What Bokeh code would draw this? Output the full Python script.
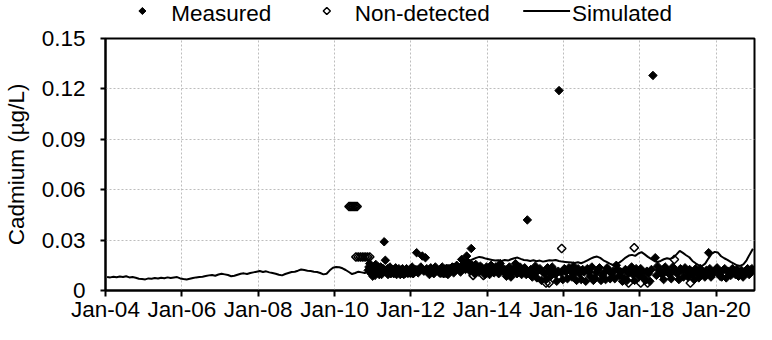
import numpy as np
from bokeh.plotting import figure
from bokeh.layouts import column
from bokeh.models import FixedTicker, Range1d, ColumnDataSource
from bokeh.core.properties import value
from bokeh.embed import file_html
from bokeh.resources import INLINE

# ---------------- data ----------------
x_tick_years = [2004, 2006, 2008, 2010, 2012, 2014, 2016, 2018, 2020]
x_tick_labels = ["Jan-04", "Jan-06", "Jan-08", "Jan-10", "Jan-12", "Jan-14", "Jan-16", "Jan-18", "Jan-20"]
y_ticks = [0.0, 0.03, 0.06, 0.09, 0.12, 0.15]
y_tick_labels = ["0", "0.03", "0.06", "0.09", "0.12", "0.15"]
legend_labels = ["Measured", "Non-detected", "Simulated"]

sim_start_year = 2004
# monthly simulated cadmium (ug/L), Jan 2004 .. Dec 2020
simulated = [
    0.0080, 0.0078, 0.0082, 0.0079, 0.0083, 0.0080, 0.0085, 0.0078, 0.0080, 0.0076, 0.0070, 0.0068,
    0.0066, 0.0072, 0.0070, 0.0074, 0.0071, 0.0076, 0.0073, 0.0078, 0.0074, 0.0077, 0.0080, 0.0072,
    0.0068, 0.0066, 0.0070, 0.0074, 0.0078, 0.0080, 0.0082, 0.0086, 0.0090, 0.0092, 0.0088, 0.0095,
    0.0100, 0.0096, 0.0092, 0.0085, 0.0088, 0.0094, 0.0100, 0.0102, 0.0098, 0.0104, 0.0108, 0.0112,
    0.0116, 0.0110, 0.0114, 0.0108, 0.0104, 0.0100, 0.0094, 0.0090, 0.0098, 0.0104, 0.0110, 0.0112,
    0.0118, 0.0125, 0.0122, 0.0118, 0.0116, 0.0112, 0.0110, 0.0104, 0.0096, 0.0100, 0.0120, 0.0135,
    0.0140, 0.0138, 0.0132, 0.0122, 0.0110, 0.0098, 0.0104, 0.0112, 0.0108, 0.0104, 0.0114, 0.0120,
    0.0125, 0.0130, 0.0128, 0.0126, 0.0132, 0.0128, 0.0124, 0.0130, 0.0134, 0.0130, 0.0128, 0.0135,
    0.0140, 0.0145, 0.0140, 0.0142, 0.0136, 0.0142, 0.0146, 0.0140, 0.0136, 0.0142, 0.0148, 0.0150,
    0.0152, 0.0158, 0.0150, 0.0156, 0.0162, 0.0170, 0.0178, 0.0186, 0.0194, 0.0200, 0.0196, 0.0190,
    0.0186, 0.0182, 0.0178, 0.0180, 0.0176, 0.0182, 0.0178, 0.0186, 0.0192, 0.0196, 0.0188, 0.0182,
    0.0180, 0.0176, 0.0180, 0.0174, 0.0178, 0.0172, 0.0176, 0.0180, 0.0178, 0.0182, 0.0176, 0.0172,
    0.0170, 0.0168, 0.0166, 0.0164, 0.0168, 0.0162, 0.0170, 0.0180, 0.0190, 0.0198, 0.0202, 0.0194,
    0.0180, 0.0170, 0.0160, 0.0152, 0.0158, 0.0166, 0.0180, 0.0196, 0.0208, 0.0212, 0.0206, 0.0220,
    0.0228, 0.0215, 0.0200, 0.0188, 0.0176, 0.0170, 0.0176, 0.0186, 0.0192, 0.0188, 0.0196, 0.0215,
    0.0236, 0.0224, 0.0210, 0.0198, 0.0176, 0.0162, 0.0150, 0.0146, 0.0160, 0.0190, 0.0218, 0.0230,
    0.0226, 0.0204, 0.0192, 0.0182, 0.0170, 0.0160, 0.0150, 0.0146, 0.0156, 0.0180, 0.0215, 0.0248,
]

measured_year = [
    2010.88, 2010.92, 2010.96, 2011.00, 2011.04, 2011.08, 2011.12, 2011.17, 2011.21, 2011.25,
    2011.30, 2011.33, 2011.36, 2011.40, 2011.45, 2011.50, 2011.55, 2011.60, 2011.65, 2011.72,
    2011.78, 2011.85, 2011.92, 2012.00, 2012.06, 2012.15, 2012.22, 2012.30, 2012.38, 2012.45,
    2012.52, 2012.60, 2012.68, 2012.75, 2012.82, 2012.90, 2012.97, 2013.05, 2013.12, 2013.20,
    2013.27, 2013.33, 2013.40, 2013.46, 2013.52, 2013.58, 2013.64, 2013.70, 2013.78, 2013.86,
    2013.94, 2014.02, 2014.10, 2014.18, 2014.26, 2014.34, 2014.42, 2014.50, 2014.58, 2014.66,
    2014.74, 2014.82, 2014.90, 2014.98, 2015.05, 2015.10, 2015.18, 2015.26, 2015.34, 2015.42,
    2015.50, 2015.58, 2015.66, 2015.74, 2015.82, 2015.88, 2015.94, 2016.02, 2016.10, 2016.18,
    2016.26, 2016.34, 2016.42, 2016.50, 2016.58, 2016.66, 2016.74, 2016.82, 2016.90, 2016.98,
    2017.06, 2017.14, 2017.22, 2017.30, 2017.38, 2017.46, 2017.54, 2017.62, 2017.70, 2017.78,
    2017.86, 2017.94, 2018.02, 2018.10, 2018.18, 2018.26, 2018.34, 2018.40, 2018.46, 2018.54,
    2018.62, 2018.70, 2018.78, 2018.86, 2018.94, 2019.02, 2019.10, 2019.18, 2019.26, 2019.34,
    2019.42, 2019.50, 2019.58, 2019.66, 2019.74, 2019.80, 2019.86, 2019.94, 2020.02, 2020.10,
    2020.18, 2020.26, 2020.34, 2020.42, 2020.50, 2020.58, 2020.66, 2020.74, 2020.82, 2020.90,
    2020.96,
    2010.90, 2010.94, 2010.98, 2011.02, 2011.06, 2011.10, 2011.145, 2011.19, 2011.23, 2011.275,
    2011.385, 2011.425, 2011.475, 2011.525, 2011.575, 2011.625, 2011.685, 2011.75, 2011.815, 2011.885,
    2011.96, 2012.03, 2012.10, 2012.19, 2012.26, 2012.34, 2012.415, 2012.485, 2012.56, 2012.64,
    2012.715, 2012.785, 2012.86, 2012.935, 2013.01, 2013.085, 2013.16, 2013.235, 2013.30, 2013.365,
    2013.43, 2013.49, 2013.55, 2013.61, 2013.67, 2013.74, 2013.82, 2013.90, 2013.98, 2014.06,
    2014.14, 2014.22, 2014.30, 2014.38, 2014.46, 2014.54, 2014.62, 2014.70, 2014.78, 2014.86,
    2014.94, 2015.02, 2015.14, 2015.22, 2015.30, 2015.38, 2015.46, 2015.54, 2015.62, 2015.70,
    2015.78, 2015.86, 2015.98, 2016.06, 2016.14, 2016.22, 2016.30, 2016.38, 2016.46, 2016.54,
    2016.62, 2016.70, 2016.78, 2016.86, 2016.94, 2017.02, 2017.10, 2017.18, 2017.26, 2017.34,
    2017.42, 2017.50, 2017.58, 2017.66, 2017.74, 2017.82, 2017.90, 2017.98, 2018.06, 2018.14,
    2018.22, 2018.30, 2018.43, 2018.50, 2018.58, 2018.66, 2018.74, 2018.82, 2018.90, 2018.98,
    2019.06, 2019.14, 2019.22, 2019.30, 2019.38, 2019.46, 2019.54, 2019.62, 2019.70, 2019.77,
    2019.83, 2019.90, 2019.98, 2020.06, 2020.14, 2020.22, 2020.30, 2020.38, 2020.46, 2020.54,
    2020.62, 2020.70, 2020.78, 2020.86, 2020.93,
]
measured_value = [
    0.0120, 0.0160, 0.0100, 0.0085, 0.0130, 0.0155, 0.0110, 0.0095, 0.0140, 0.0120,
    0.0290, 0.0180, 0.0110, 0.0095, 0.0140, 0.0120, 0.0100, 0.0135, 0.0115, 0.0095,
    0.0130, 0.0110, 0.0105, 0.0125, 0.0100, 0.0225, 0.0125, 0.0205, 0.0195, 0.0110,
    0.0135, 0.0100, 0.0125, 0.0105, 0.0140, 0.0115, 0.0095, 0.0125, 0.0105, 0.0150,
    0.0125, 0.0185, 0.0160, 0.0205, 0.0140, 0.0250, 0.0120, 0.0155, 0.0110, 0.0135,
    0.0095, 0.0125, 0.0150, 0.0105, 0.0130, 0.0160, 0.0115, 0.0085, 0.0140, 0.0110,
    0.0160, 0.0125, 0.0095, 0.0135, 0.0420, 0.0110, 0.0080, 0.0145, 0.0120, 0.0060,
    0.0100, 0.0135, 0.0085, 0.0120, 0.0055, 0.1190, 0.0105, 0.0130, 0.0070, 0.0115,
    0.0145, 0.0060, 0.0100, 0.0125, 0.0055, 0.0110, 0.0140, 0.0075, 0.0120, 0.0060,
    0.0105, 0.0135, 0.0070, 0.0115, 0.0150, 0.0090, 0.0055, 0.0125, 0.0100, 0.0140,
    0.0060, 0.0110, 0.0130, 0.0075, 0.0115, 0.0055, 0.1280, 0.0195, 0.0145, 0.0105,
    0.0065, 0.0125, 0.0095, 0.0140, 0.0110, 0.0065, 0.0120, 0.0135, 0.0080, 0.0115,
    0.0065, 0.0105, 0.0130, 0.0095, 0.0120, 0.0225, 0.0080, 0.0110, 0.0135, 0.0085,
    0.0120, 0.0075, 0.0105, 0.0130, 0.0095, 0.0085, 0.0120, 0.0100, 0.0130, 0.0110,
    0.0120,
    0.0140, 0.0115, 0.0130, 0.0105, 0.0090, 0.0125, 0.0140, 0.0110, 0.0095, 0.0130,
    0.0130, 0.0115, 0.0100, 0.0125, 0.0115, 0.0095, 0.0130, 0.0115, 0.0095, 0.0130,
    0.0115, 0.0140, 0.0120, 0.0105, 0.0140, 0.0115, 0.0130, 0.0095, 0.0120, 0.0140,
    0.0115, 0.0125, 0.0100, 0.0130, 0.0110, 0.0140, 0.0120, 0.0135, 0.0110, 0.0140,
    0.0125, 0.0170, 0.0115, 0.0150, 0.0100, 0.0130, 0.0145, 0.0115, 0.0140, 0.0095,
    0.0125, 0.0140, 0.0100, 0.0135, 0.0125, 0.0110, 0.0080, 0.0130, 0.0100, 0.0140,
    0.0115, 0.0095, 0.0125, 0.0100, 0.0075, 0.0130, 0.0110, 0.0065, 0.0110, 0.0140,
    0.0095, 0.0115, 0.0065, 0.0110, 0.0135, 0.0080, 0.0105, 0.0130, 0.0065, 0.0110,
    0.0130, 0.0085, 0.0060, 0.0105, 0.0135, 0.0090, 0.0065, 0.0120, 0.0100, 0.0070,
    0.0125, 0.0110, 0.0075, 0.0060, 0.0120, 0.0095, 0.0130, 0.0085, 0.0110, 0.0060,
    0.0100, 0.0125, 0.0090, 0.0120, 0.0095, 0.0140, 0.0110, 0.0070, 0.0120, 0.0100,
    0.0130, 0.0080, 0.0110, 0.0125, 0.0095, 0.0130, 0.0075, 0.0115, 0.0080, 0.0105,
    0.0130, 0.0095, 0.0120, 0.0105, 0.0080, 0.0130, 0.0115, 0.0090, 0.0110, 0.0125,
    0.0105, 0.0080, 0.0115, 0.0095, 0.0130,
]

nondetect_year = [
    2010.38, 2010.415, 2010.45, 2010.485, 2010.52, 2010.555, 2010.59,
    2010.56, 2010.62, 2010.68, 2010.74, 2010.80, 2010.86, 2010.92,
    2011.78, 2011.85, 2011.92, 2011.99, 2012.06,
    2012.78, 2012.85, 2012.92,
    2013.63, 2013.90, 2014.55,
    2015.54, 2015.62, 2015.95,
    2017.70, 2017.85, 2018.02, 2018.20, 2018.90, 2019.32,
]
nondetect_value = [
    0.050, 0.050, 0.050, 0.050, 0.050, 0.050, 0.050,
    0.020, 0.020, 0.020, 0.020, 0.020, 0.020, 0.020,
    0.0105, 0.0105, 0.0105, 0.0105, 0.0105,
    0.0105, 0.0105, 0.0105,
    0.0090, 0.0090, 0.0095,
    0.0045, 0.0045, 0.0250,
    0.0045, 0.0255, 0.0045, 0.0045, 0.0185, 0.0045,
]

# ---------------- style ----------------
FONT = "Liberation Sans"
FS = "22.5px"
W = 756
LEG_H = 25
MAIN_H = 299
BORDER_L = 103
BORDER_R = 2

# ---------------- legend strip (small figure above the chart, frame aligned with it) ----------------
# x in this strip is measured in page pixels: frame spans page x 111 .. 762
leg = figure(width=W, height=LEG_H, output_backend="svg", toolbar_location=None,
             x_range=Range1d(8 + BORDER_L, 8 + W - BORDER_R), y_range=Range1d(0, LEG_H),
             min_border_left=BORDER_L, min_border_right=BORDER_R, min_border_top=0, min_border_bottom=0)
leg.axis.visible = False
leg.grid.visible = False
leg.outline_line_color = None
leg.title.visible = False
leg.background_fill_color = "white"
leg.border_fill_color = "white"

gy = 14.5  # glyph row (strip px from bottom)
ty = 12.5  # text middle
leg.scatter(x=[148], y=[gy], marker="square", angle=np.pi / 4, size=5,
            fill_color="black", line_color="black", line_width=1)
leg.scatter(x=[333], y=[gy], marker="square", angle=np.pi / 4, size=5,
            fill_color=None, line_color="black", line_width=1.5)
leg.line(x=[530, 577], y=[gy, gy], line_color="black", line_width=2)
leg.text(x=[177, 361, 579], y=[ty, ty, ty], text=legend_labels,
         text_font=value(FONT), text_font_size=value(FS), text_color="black",
         text_baseline="middle", text_align="left")

# ---------------- main chart ----------------
sim_x = [sim_start_year + (i + 0.5) / 12.0 for i in range(len(simulated))]

p = figure(width=W, height=MAIN_H, output_backend="svg", toolbar_location=None,
           x_range=Range1d(2004, 2021), y_range=Range1d(0, 0.15),
           min_border_left=BORDER_L, min_border_right=BORDER_R, min_border_top=13, min_border_bottom=32)
p.title.visible = False

p.background_fill_color = "white"
p.border_fill_color = "white"
p.outline_line_color = "black"
p.outline_line_width = 2

sim_src = ColumnDataSource(dict(x=sim_x, y=simulated))
meas_src = ColumnDataSource(dict(x=measured_year, y=measured_value))
nd_src = ColumnDataSource(dict(x=nondetect_year, y=nondetect_value))

p.line("x", "y", source=sim_src, line_color="black", line_width=2)
p.scatter("x", "y", source=meas_src, marker="square", angle=np.pi / 4, size=6,
          fill_color="black", line_color="black", line_width=1)
p.scatter("x", "y", source=nd_src, marker="square", angle=np.pi / 4, size=6,
          fill_color=None, line_color="black", line_width=1.5)

p.xaxis.ticker = FixedTicker(ticks=x_tick_years)
p.xaxis.major_label_overrides = {t: l for t, l in zip(x_tick_years, x_tick_labels)}
p.yaxis.ticker = FixedTicker(ticks=y_ticks)
p.yaxis.major_label_overrides = {t: l for t, l in zip(y_ticks, y_tick_labels)}

for ax in (p.xaxis[0], p.yaxis[0]):
    ax.axis_line_color = "black"
    ax.axis_line_width = 2
    ax.major_tick_line_color = "black"
    ax.major_tick_line_width = 2
    ax.major_tick_in = 0
    ax.minor_tick_line_color = None
    ax.major_label_text_font = FONT
    ax.major_label_text_font_size = FS
    ax.major_label_text_color = "black"

p.xaxis.major_tick_out = 6
p.xaxis.major_label_standoff = 0
p.yaxis.major_tick_out = 5
p.yaxis.major_label_standoff = 15

p.yaxis.axis_label = "Cadmium (µg/L)"
p.yaxis.axis_label_text_font = FONT
p.yaxis.axis_label_text_font_size = FS
p.yaxis.axis_label_text_font_style = "normal"
p.yaxis.axis_label_text_color = "black"
p.yaxis.axis_label_standoff = 10

for g in (p.xgrid[0], p.ygrid[0]):
    g.grid_line_color = "#bdbdbd"
    g.grid_line_width = 1
    g.grid_line_dash = "2 2"

layout = column(leg, p, spacing=0)
open("out.html", "w").write(file_html(layout, INLINE))
